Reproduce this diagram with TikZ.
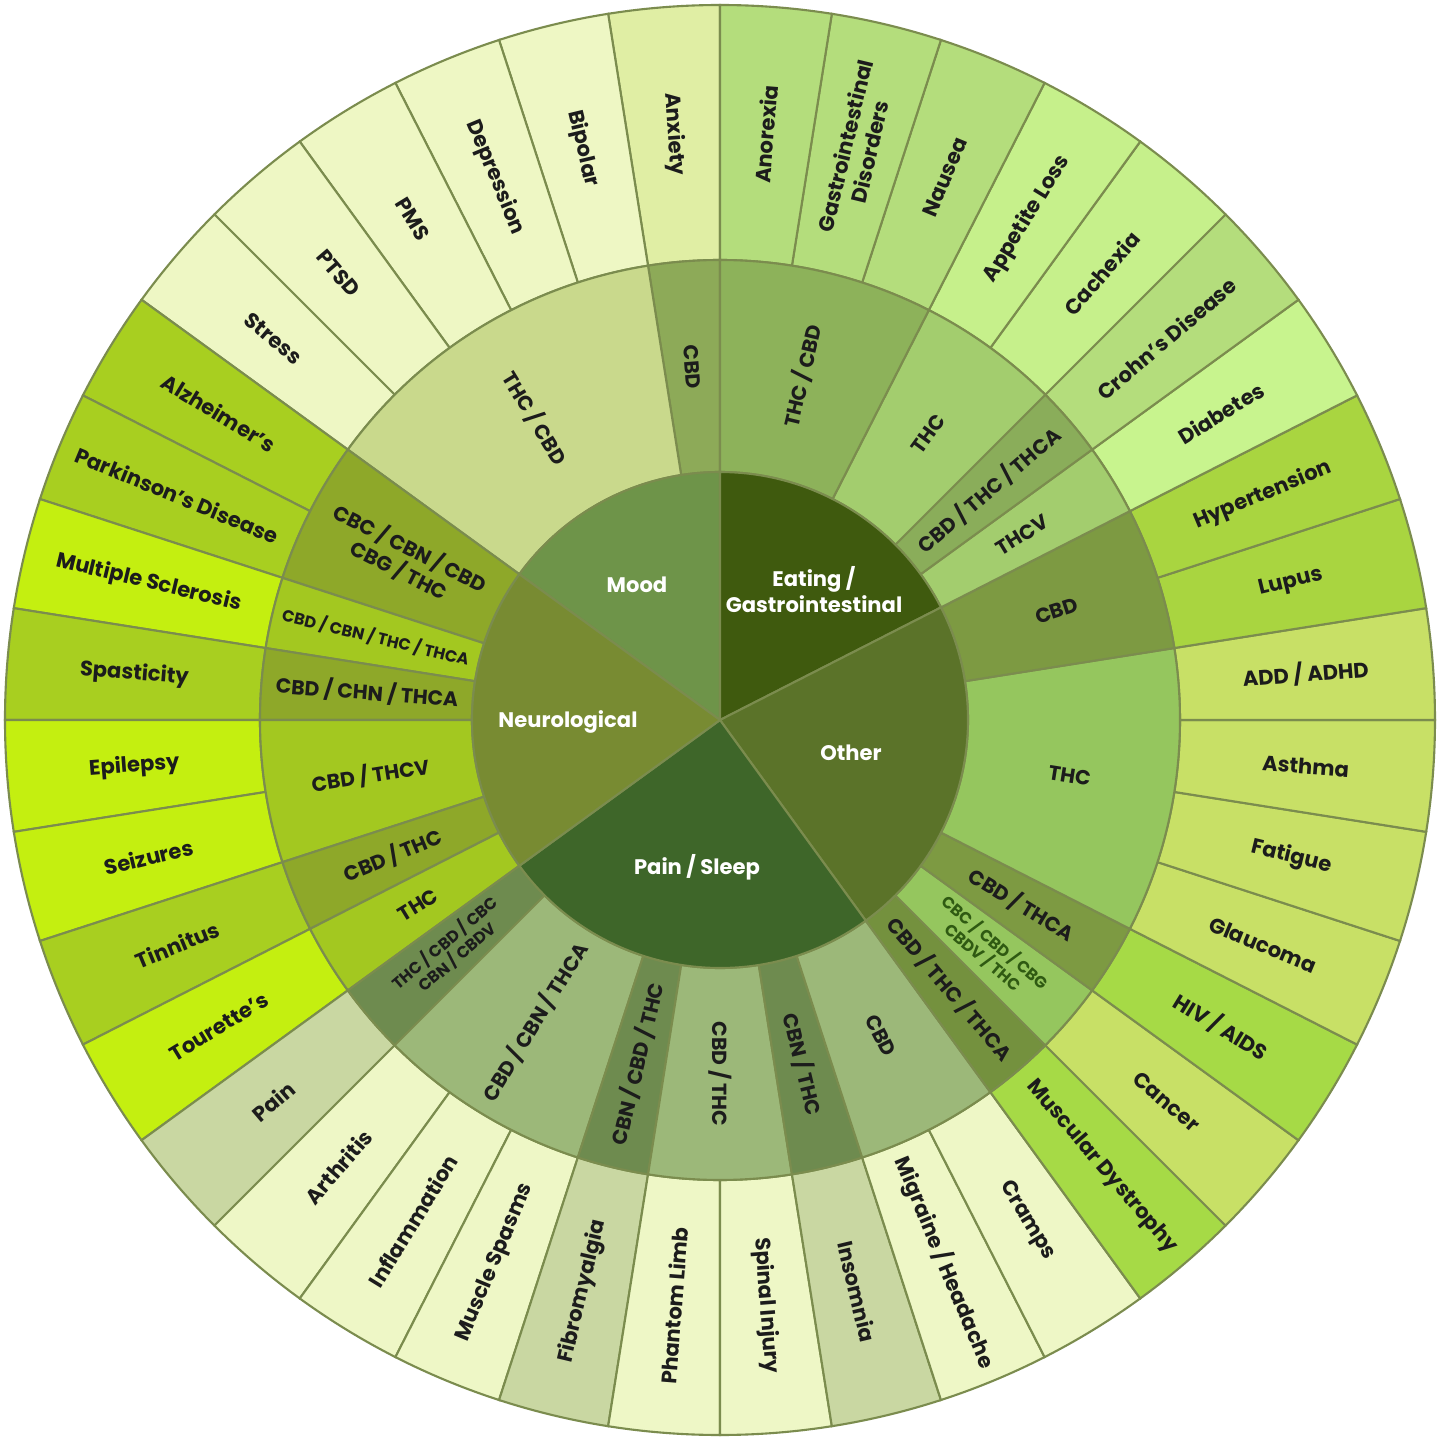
\documentclass[tikz,border=0pt]{standalone}
\usepackage{fontspec}
\setmainfont{Poppins}
\usepackage{tikz}

\definecolor{lineolive}{HTML}{7B8C4E}
\definecolor{ink}{HTML}{1C1C1C}
\definecolor{inkgreen}{HTML}{2F5A12}
% inner wedges
\definecolor{moodin}{HTML}{6E9449}
\definecolor{eatin}{HTML}{3F5A0E}
\definecolor{otherin}{HTML}{5B7329}
\definecolor{painin}{HTML}{3E6629}
\definecolor{neuroin}{HTML}{788B32}
% mood
\definecolor{anxietyc}{HTML}{E0EEA4}
\definecolor{moodpale}{HTML}{EEF7C4}
\definecolor{moodmida}{HTML}{8DAA58}
\definecolor{moodmidb}{HTML}{C9D98C}
% eating
\definecolor{eatouta}{HTML}{B4DD7C}
\definecolor{eatoutb}{HTML}{C6F08B}
\definecolor{eatoutc}{HTML}{C8F48E}
\definecolor{eatmida}{HTML}{8DB25A}
\definecolor{eatmidb}{HTML}{A3CD6E}
\definecolor{eatmidc}{HTML}{8AAD5A}
% other
\definecolor{otherouta}{HTML}{A9D540}
\definecolor{otheroutb}{HTML}{C8E066}
\definecolor{otheroutc}{HTML}{A6DA46}
\definecolor{othermida}{HTML}{7D9A42}
\definecolor{othermidb}{HTML}{95C65E}
\definecolor{othermidc}{HTML}{74913E}
% pain
\definecolor{painpale}{HTML}{EEF7C6}
\definecolor{paingray}{HTML}{C9D7A2}
\definecolor{painmida}{HTML}{9CB879}
\definecolor{painmidb}{HTML}{6E8B4F}
% neuro
\definecolor{neurodark}{HTML}{A8CF20}
\definecolor{neurobright}{HTML}{C4EF10}
\definecolor{neuromida}{HTML}{8EA829}
\definecolor{neuromidb}{HTML}{A3C820}

\tikzset{
  segline/.style={draw=lineolive, line width=0.6pt},
  outerlbl/.style={font=\bfseries\fontsize{6.0}{7.2}\selectfont, text=ink, align=center, inner sep=0pt},
  midlbl/.style={outerlbl, font=\bfseries\fontsize{5.8}{7.0}\selectfont},
  smalllbl/.style={font=\bfseries\fontsize{4.6}{5.4}\selectfont, text=ink, align=center, inner sep=0pt},
  innerlbl/.style={font=\bfseries\fontsize{6.0}{7.4}\selectfont, text=white, align=center},
}

% name, inner r, outer r, start angle, end angle, fill, label style, text
\newcommand{\ringcell}[8]{%
  \filldraw[segline, fill=#6] (#4:#2) arc[start angle=#4, end angle=#5, radius=#2]
    -- (#5:#3) arc[start angle=#5, end angle=#4, radius=#3] -- cycle;
  \pgfmathsetmacro{\cellmid}{(#4+#5)/2}
  \pgfmathsetmacro{\cellrot}{ifthenelse(and(\cellmid>90,\cellmid<270),\cellmid-180,\cellmid)}
  \node[#7, rotate=\cellrot] (#1) at (\cellmid:{(#2+#3)/2}) {#8};
}

\begin{document}
\begin{tikzpicture}
\useasboundingbox (-7.2,-7.2) rectangle (7.2,7.2);
\fill[white] (-7.2,-7.2) rectangle (7.2,7.2);

% outer ring: mood
\ringcell{anxiety}{4.6}{7.15}{90}{99}{anxietyc}{outerlbl}{Anxiety}
\ringcell{bipolar}{4.6}{7.15}{99}{108}{moodpale}{outerlbl}{Bipolar}
\ringcell{depression}{4.6}{7.15}{108}{117}{moodpale}{outerlbl}{Depression}
\ringcell{pms}{4.6}{7.15}{117}{126}{moodpale}{outerlbl}{PMS}
\ringcell{ptsd}{4.6}{7.15}{126}{135}{moodpale}{outerlbl}{PTSD}
\ringcell{stress}{4.6}{7.15}{135}{144}{moodpale}{outerlbl}{Stress}
% outer ring: neurological
\ringcell{alzheimers}{4.6}{7.15}{144}{153}{neurodark}{outerlbl}{Alzheimer's}
\ringcell{parkinsons}{4.6}{7.15}{153}{162}{neurodark}{outerlbl}{Parkinson's Disease}
\ringcell{sclerosis}{4.6}{7.15}{162}{171}{neurobright}{outerlbl}{Multiple Sclerosis}
\ringcell{spasticity}{4.6}{7.15}{171}{180}{neurodark}{outerlbl}{Spasticity}
\ringcell{epilepsy}{4.6}{7.15}{180}{189}{neurobright}{outerlbl}{Epilepsy}
\ringcell{seizures}{4.6}{7.15}{189}{198}{neurobright}{outerlbl}{Seizures}
\ringcell{tinnitus}{4.6}{7.15}{198}{207}{neurodark}{outerlbl}{Tinnitus}
\ringcell{tourettes}{4.6}{7.15}{207}{216}{neurobright}{outerlbl}{Tourette's}
% outer ring: pain / sleep
\ringcell{pain}{4.6}{7.15}{216}{225}{paingray}{outerlbl}{Pain}
\ringcell{arthritis}{4.6}{7.15}{225}{234}{painpale}{outerlbl}{Arthritis}
\ringcell{inflammation}{4.6}{7.15}{234}{243}{painpale}{outerlbl}{Inflammation}
\ringcell{spasms}{4.6}{7.15}{243}{252}{painpale}{outerlbl}{Muscle Spasms}
\ringcell{fibromyalgia}{4.6}{7.15}{252}{261}{paingray}{outerlbl}{Fibromyalgia}
\ringcell{phantom}{4.6}{7.15}{261}{270}{painpale}{outerlbl}{Phantom Limb}
\ringcell{spinal}{4.6}{7.15}{270}{279}{painpale}{outerlbl}{Spinal Injury}
\ringcell{insomnia}{4.6}{7.15}{279}{288}{paingray}{outerlbl}{Insomnia}
\ringcell{migraine}{4.6}{7.15}{288}{297}{painpale}{outerlbl}{Migraine / Headache}
\ringcell{cramps}{4.6}{7.15}{297}{306}{painpale}{outerlbl}{Cramps}
% outer ring: other
\ringcell{dystrophy}{4.6}{7.15}{-54}{-45}{otheroutc}{outerlbl}{Muscular Dystrophy}
\ringcell{cancer}{4.6}{7.15}{-45}{-36}{otheroutb}{outerlbl}{Cancer}
\ringcell{hiv}{4.6}{7.15}{-36}{-27}{otheroutc}{outerlbl}{HIV / AIDS}
\ringcell{glaucoma}{4.6}{7.15}{-27}{-18}{otheroutb}{outerlbl}{Glaucoma}
\ringcell{fatigue}{4.6}{7.15}{-18}{-9}{otheroutb}{outerlbl}{Fatigue}
\ringcell{asthma}{4.6}{7.15}{-9}{0}{otheroutb}{outerlbl}{Asthma}
\ringcell{adhd}{4.6}{7.15}{0}{9}{otheroutb}{outerlbl}{ADD / ADHD}
\ringcell{lupus}{4.6}{7.15}{9}{18}{otherouta}{outerlbl}{Lupus}
\ringcell{hypertension}{4.6}{7.15}{18}{27}{otherouta}{outerlbl}{Hypertension}
% outer ring: eating / gastrointestinal
\ringcell{diabetes}{4.6}{7.15}{27}{36}{eatoutc}{outerlbl}{Diabetes}
\ringcell{crohns}{4.6}{7.15}{36}{45}{eatouta}{outerlbl}{Crohn's Disease}
\ringcell{cachexia}{4.6}{7.15}{45}{54}{eatoutb}{outerlbl}{Cachexia}
\ringcell{appetite}{4.6}{7.15}{54}{63}{eatoutb}{outerlbl}{Appetite Loss}
\ringcell{nausea}{4.6}{7.15}{63}{72}{eatouta}{outerlbl}{Nausea}
\ringcell{gidisorders}{4.6}{7.15}{72}{81}{eatouta}{outerlbl}{Gastrointestinal\\Disorders}
\ringcell{anorexia}{4.6}{7.15}{81}{90}{eatouta}{outerlbl}{Anorexia}

% middle ring
\ringcell{mood-cbd}{2.48}{4.6}{90}{99}{moodmida}{midlbl}{CBD}
\ringcell{mood-thccbd}{2.48}{4.6}{99}{144}{moodmidb}{midlbl}{THC / CBD}
\ringcell{neuro-mix}{2.48}{4.6}{144}{162}{neuromida}{midlbl}{CBC / CBN / CBD\\CBG / THC}
\ringcell{neuro-cbn}{2.48}{4.6}{162}{171}{neuromidb}{smalllbl}{CBD / CBN / THC / THCA}
\ringcell{neuro-chn}{2.48}{4.6}{171}{180}{neuromida}{midlbl}{CBD / CHN / THCA}
\ringcell{neuro-thcv}{2.48}{4.6}{180}{198}{neuromidb}{midlbl}{CBD / THCV}
\ringcell{neuro-cbdthc}{2.48}{4.6}{198}{207}{neuromida}{midlbl}{CBD / THC}
\ringcell{neuro-thc}{2.48}{4.6}{207}{216}{neuromidb}{midlbl}{THC}
\ringcell{pain-mix}{2.48}{4.6}{216}{225}{painmidb}{smalllbl}{THC / CBD / CBC\\CBN / CBDV}
\ringcell{pain-thca}{2.48}{4.6}{225}{252}{painmida}{midlbl}{CBD / CBN / THCA}
\ringcell{pain-cbncbd}{2.48}{4.6}{252}{261}{painmidb}{midlbl}{CBN / CBD / THC}
\ringcell{pain-cbdthc}{2.48}{4.6}{261}{279}{painmida}{midlbl}{CBD / THC}
\ringcell{pain-cbnthc}{2.48}{4.6}{279}{288}{painmidb}{midlbl}{CBN / THC}
\ringcell{pain-cbd}{2.48}{4.6}{288}{306}{painmida}{midlbl}{CBD}
\ringcell{other-thca}{2.48}{4.6}{-54}{-45}{othermidc}{midlbl}{CBD / THC / THCA}
\ringcell{other-mix}{2.48}{4.6}{-45}{-36}{othermidb}{smalllbl, text=inkgreen}{CBC / CBD / CBG\\CBDV / THC}
\ringcell{other-cbdthca}{2.48}{4.6}{-36}{-27}{othermida}{midlbl}{CBD / THCA}
\ringcell{other-thc}{2.48}{4.6}{-27}{9}{othermidb}{midlbl}{THC}
\ringcell{other-cbd}{2.48}{4.6}{9}{27}{othermida}{midlbl}{CBD}
\ringcell{eat-thcv}{2.48}{4.6}{27}{36}{eatmidb}{midlbl}{THCV}
\ringcell{eat-thca}{2.48}{4.6}{36}{45}{eatmidc}{midlbl}{CBD / THC / THCA}
\ringcell{eat-thc}{2.48}{4.6}{45}{63}{eatmidb}{midlbl}{THC}
\ringcell{eat-thccbd}{2.48}{4.6}{63}{90}{eatmida}{midlbl}{THC / CBD}

% inner circle
\filldraw[segline, fill=moodin] (0,0) -- (90:2.48) arc[start angle=90, end angle=144, radius=2.48] -- cycle;
\filldraw[segline, fill=eatin] (0,0) -- (27:2.48) arc[start angle=27, end angle=90, radius=2.48] -- cycle;
\filldraw[segline, fill=otherin] (0,0) -- (-54:2.48) arc[start angle=-54, end angle=27, radius=2.48] -- cycle;
\filldraw[segline, fill=painin] (0,0) -- (216:2.48) arc[start angle=216, end angle=306, radius=2.48] -- cycle;
\filldraw[segline, fill=neuroin] (0,0) -- (144:2.48) arc[start angle=144, end angle=216, radius=2.48] -- cycle;
\node[innerlbl] (mood) at (-0.83,1.35) {Mood};
\node[innerlbl] (eating) at (0.94,1.30) {Eating /\\Gastrointestinal};
\node[innerlbl] (other) at (1.31,-0.33) {Other};
\node[innerlbl] (painsleep) at (-0.23,-1.47) {Pain / Sleep};
\node[innerlbl] (neuro) at (-1.52,-0.02) {Neurological};
\end{tikzpicture}
\end{document}
